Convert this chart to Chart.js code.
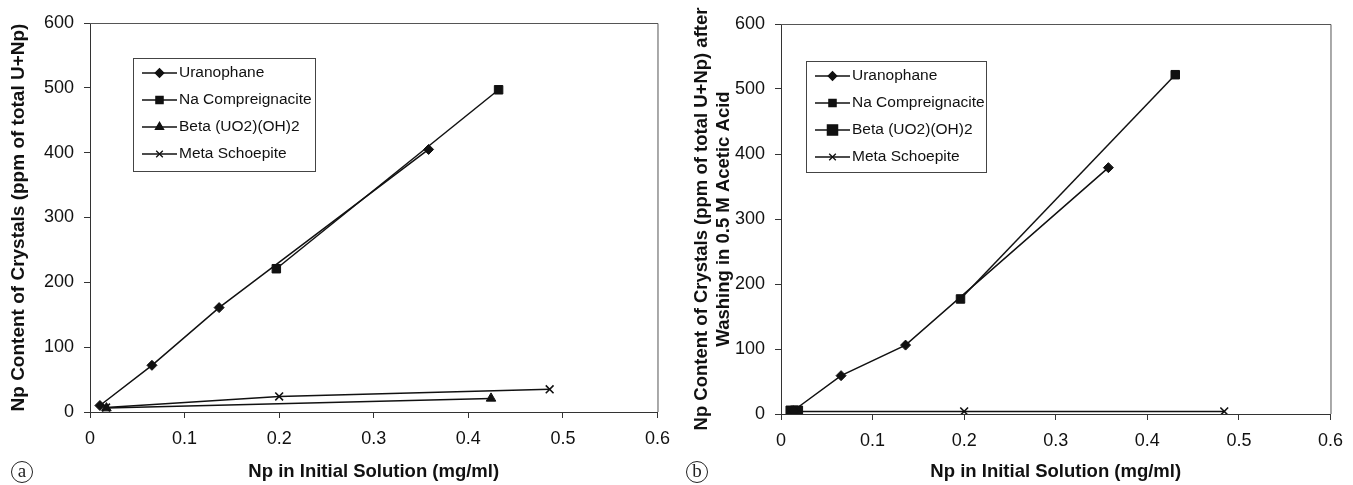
<!DOCTYPE html>
<html>
<head>
<meta charset="utf-8">
<script src="https://cdn.jsdelivr.net/npm/chart.js@4.4.0/dist/chart.umd.min.js"></script>
<style>
  body { margin: 0; background: #fff; }
  #wrap { position: relative; width: 1353px; height: 485px; }
  canvas { position: absolute; top: 0; }
  .tag {
    position: absolute; width: 20px; height: 20px; border: 1px solid #222; border-radius: 50%;
    font: 19px "Liberation Serif", serif; line-height: 18px; text-align: center; color: #222;
  }
</style>
</head>
<body>
<div id="wrap">
  <canvas id="chartA" width="680" height="485" style="left:0"></canvas>
  <canvas id="chartB" width="673" height="485" style="left:680px"></canvas>
  <div class="tag" style="left:11px; top:461px">a</div>
  <div class="tag" style="left:686px; top:461px">b</div>
</div>
<script>
// series names
const seriesNames = ['Uranophane', 'Na Compreignacite', 'Beta (UO2)(OH)2', 'Meta Schoepite'];

// (a) as grown
const uranoAx = [0.0105, 0.0655, 0.1365, 0.358];
const uranoAy = [10, 72, 161, 405];
const naAx = [0.197, 0.432];
const naAy = [221, 497];
const betaAx = [0.0174, 0.424];
const betaAy = [6, 21];
const metaAx = [0.017, 0.2, 0.486];
const metaAy = [7, 24, 35];

// (b) after washing in acetic acid
const uranoBx = [0.0134, 0.0656, 0.136, 0.3575];
const uranoBy = [5, 59, 106, 379];
const naBx = [0.196, 0.4305];
const naBy = [177, 522];
const betaBx = [0.012, 0.017];
const betaBy = [3, 3];
const metaBx = [0.015, 0.2, 0.484];
const metaBy = [4, 4, 4];

// axis ticks
const xTicks = [0, 0.1, 0.2, 0.3, 0.4, 0.5, 0.6];
const yTicks = [0, 100, 200, 300, 400, 500, 600];

const pts = (xs, ys) => xs.map((x, i) => ({ x: x, y: ys[i] }));

function ds(label, data, style, radius) {
  return {
    label: label, data: data, showLine: true,
    borderColor: '#111', backgroundColor: '#111', borderWidth: 1.5,
    pointStyle: style, pointRadius: radius, pointHoverRadius: radius,
    pointBorderWidth: style === 'crossRot' ? 1.6 : 1
  };
}

// box + border + legend drawn inside the plot
const framePlugin = {
  id: 'frame',
  afterDraw(chart, args, opts) {
    const ctx = chart.ctx, a = chart.chartArea;
    ctx.save();
    ctx.strokeStyle = '#555';
    ctx.lineWidth = 1;
    ctx.beginPath();
    ctx.moveTo(a.left, a.top + 0.5); ctx.lineTo(a.right + 0.5, a.top + 0.5); ctx.lineTo(a.right + 0.5, a.bottom);
    ctx.stroke();

    // legend
    const L = opts.box;
    ctx.strokeStyle = '#444';
    ctx.strokeRect(L.x + 0.5, L.y + 0.5, L.w, L.h);
    ctx.font = '15.5px "Liberation Sans", Arial, sans-serif';
    ctx.textBaseline = 'middle';
    ctx.fillStyle = '#111';
    chart.data.datasets.forEach((d, i) => {
      const y = L.y + 15 + i * 27;
      const x0 = L.x + 9, x1 = L.x + 44, xm = (x0 + x1) / 2;
      ctx.strokeStyle = '#111';
      ctx.lineWidth = 1.3;
      ctx.beginPath(); ctx.moveTo(x0, y); ctx.lineTo(x1, y); ctx.stroke();
      Chart.helpers.drawPoint(ctx, {
        pointStyle: d.pointStyle, radius: d.pointRadius * 0.85, borderWidth: d.pointBorderWidth
      }, xm, y);
      ctx.fillText(d.label, x1 + 2, y);
    });
    ctx.restore();
  }
};

function makeChart(id, datasets, yTitle, area, legendBox, titlePad) {
  return new Chart(document.getElementById(id), {
    type: 'scatter',
    data: { datasets: datasets },
    options: {
      responsive: false, animation: false,
      layout: { padding: { left: 0, top: area.top, right: area.right, bottom: 0 } },
      plugins: { legend: { display: false }, tooltip: { enabled: false }, frame: { box: legendBox } },
      scales: {
        x: {
          type: 'linear', min: 0, max: 0.6,
          afterBuildTicks: s => { s.ticks = xTicks.map(v => ({ value: v })); },
          afterFit: s => { s.height = area.xh; },
          grid: { display: true, drawOnChartArea: false, drawTicks: true, tickLength: 6, color: '#333' },
          border: { color: '#333', width: 1 },
          ticks: { color: '#111', padding: 10, font: { family: '"Liberation Sans", Arial', size: 18 }, maxRotation: 0,
                   callback: v => String(v) },
          title: { display: true, text: 'Np in Initial Solution (mg/ml)', color: '#111',
                   font: { family: '"Liberation Sans", Arial', size: 18.5, weight: 'bold' }, padding: { top: 0, bottom: 2 } }
        },
        y: {
          type: 'linear', min: 0, max: 600,
          afterBuildTicks: s => { s.ticks = yTicks.map(v => ({ value: v })); },
          afterFit: s => { s.width = area.left; },
          grid: { display: true, drawOnChartArea: false, drawTicks: true, tickLength: 6, color: '#333' },
          border: { color: '#333', width: 1 },
          ticks: { color: '#111', padding: 10, font: { family: '"Liberation Sans", Arial', size: 18 } },
          title: { display: true, text: yTitle, color: '#111',
                   font: { family: '"Liberation Sans", Arial', size: area.ts, weight: 'bold', lineHeight: 1.2 },
                   padding: { top: titlePad, bottom: 0 } }
        }
      }
    },
    plugins: [framePlugin]
  });
}

makeChart('chartA', [
  ds(seriesNames[0], pts(uranoAx, uranoAy), 'rectRot', 5),
  ds(seriesNames[1], pts(naAx, naAy), 'rect', 6),
  ds(seriesNames[2], pts(betaAx, betaAy), 'triangle', 5.5),
  ds(seriesNames[3], pts(metaAx, metaAy), 'crossRot', 5.5)
], 'Np Content of Crystals (ppm of total U+Np)',
  { left: 90, top: 23, right: 22, xh: 73, ts: 19 },
  { x: 133, y: 58, w: 182, h: 113 }, 7);

makeChart('chartB', [
  ds(seriesNames[0], pts(uranoBx, uranoBy), 'rectRot', 5),
  ds(seriesNames[1], pts(naBx, naBy), 'rect', 6),
  ds(seriesNames[2], pts(betaBx, betaBy), 'rect', 8.5),
  ds(seriesNames[3], pts(metaBx, metaBy), 'crossRot', 5.5)
], ['Np Content of Crystals (ppm of total U+Np) after', 'Washing in 0.5 M Acetic Acid'],
  { left: 101, top: 24, right: 14, xh: 71, ts: 18.5 },
  { x: 126, y: 61, w: 180, h: 111 }, 11);
</script>
</body>
</html>
